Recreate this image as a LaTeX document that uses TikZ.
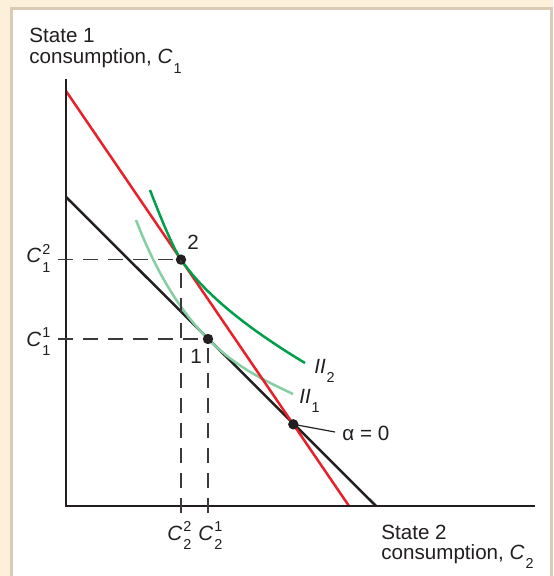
\documentclass[tikz,border=0pt]{standalone}
\usepackage{fontspec}
\setmainfont{Liberation Sans}
\usetikzlibrary{calc}

\definecolor{bgbeige}{HTML}{FDF0DA}
\definecolor{paneltan}{HTML}{D9CBB6}
\definecolor{redline}{HTML}{E8202A}
\definecolor{dkgreen}{HTML}{00A04B}
\definecolor{ltgreen}{HTML}{86CFA4}
\definecolor{inkblack}{HTML}{231F20}
\definecolor{dashgray}{HTML}{3A3A3A}

\newcommand{\smallfig}[1]{{\fontsize{7.2}{8.9}\selectfont #1}}
\newcommand{\Cmark}[2]{{\itshape C}\kern0.6pt\raisebox{-0.45em}{\fontsize{7.2}{8.9}\selectfont\begin{tabular}[b]{@{}l@{}}#2\\#1\end{tabular}}}
\newcommand{\Csingle}[1]{{\itshape C}\kern0.6pt\raisebox{-0.47em}{\smallfig{#1}}}
\newcommand{\IImark}[1]{{\itshape II}\kern0.4pt\raisebox{-0.45em}{\smallfig{#1}}}

\begin{document}
\begin{tikzpicture}[x=0.5pt,y=-0.5pt,
  font=\fontsize{10.3}{12}\selectfont,
  axisline/.style={draw=inkblack,line width=1.35pt},
  budget/.style={line width=1.25pt},
  dashline/.style={draw=dashgray,line width=0.75pt,dash pattern=on 7.5pt off 5pt},
  dotnode/.style={circle,fill=inkblack,inner sep=0pt,minimum size=5.2pt},
  lbl/.style={anchor=base west,inner sep=0pt,text=inkblack},
  curve/.style={line width=1.25pt}]
\useasboundingbox (0,0) rectangle (553,576);
% background and panel
\fill[bgbeige] (0,0) rectangle (553,576);
\filldraw[fill=white,draw=paneltan,line width=1.5pt] (11.5,600) -- (11.5,8.7) -- (551.8,8.7) -- (551.8,600);

% coordinates
\coordinate (ytop) at (66,79);
\coordinate (orig) at (66,506);
\coordinate (xend) at (535,506);
\coordinate (r0) at (66,91);
\coordinate (r1) at (349,506);
\coordinate (b0) at (66,197);
\coordinate (b1) at (376,506);

% budget line (black)
\draw[budget,draw=inkblack] (b0) -- (b1);

% light green indifference curve II1
\coordinate (l0) at (136,220);
\coordinate (l2) at (293,394);
\coordinate (p1c) at (208,339);
\draw[curve,ltgreen] (l0) .. controls (155.6,270.9) and (179.6,310.6) .. (p1c)
   .. controls (238,369) and (268,382) .. (l2);

% red line
\draw[budget,draw=redline] (r0) -- (r1);

% dark green indifference curve II2
\coordinate (g0) at (150,190);
\coordinate (g2) at (305,363);
\coordinate (p2c) at (181,259.6);
\draw[curve,dkgreen] (g0) .. controls (164.2,226.9) and (174.5,250.1) .. (p2c)
   .. controls (203.3,292.3) and (244.6,326.7) .. (g2);

% axes
\draw[axisline] (ytop) -- (orig) -- (xend);

% points
\node[dotnode] (p2) at (p2c) {};
\node[dotnode] (p1) at (p1c) {};
\node[dotnode] (p0) at (293.3,424.3) {};

% dashed guides
\coordinate (t2y) at (58,259.6);
\coordinate (t1y) at (58,339);
\coordinate (t2x) at (181,513);
\coordinate (t1x) at (208,513);
\draw[dashline] (t2y) -- (p2.center);
\draw[dashline] (t1y) -- (p1.center);
\draw[dashline] (t2x) -- (p2.center);
\draw[dashline] (t1x) -- (p1.center);

% leader for alpha
\coordinate (lead) at (335,432);
\draw[inkblack,line width=0.6pt] (p0.center) -- (lead);

% labels
\node[lbl] (s1a) at (29,43) {State 1};
\node[lbl] (s1b) at (29,64) {consumption, \Csingle{1}};
\node[lbl] (s2a) at (381,539) {State 2};
\node[lbl] (s2b) at (381,559) {consumption, \Csingle{2}};
\node[lbl] (c12) at (26,263) {\Cmark{1}{2}};
\node[lbl] (c11) at (26,346) {\Cmark{1}{1}};
\node[lbl] (c22) at (167,540) {\Cmark{2}{2}};
\node[lbl] (c21) at (198,540) {\Cmark{2}{1}};
\node[text=inkblack,inner sep=0pt] (n2) at (193,242) {2};
\node[text=inkblack,inner sep=0pt] (n1) at (196,356) {1};
\node[lbl] (ii2) at (314,373) {\IImark{2}};
\node[lbl] (ii1) at (299,403) {\IImark{1}};
\node[lbl] (al) at (342,440) {α = 0};
\end{tikzpicture}
\end{document}
